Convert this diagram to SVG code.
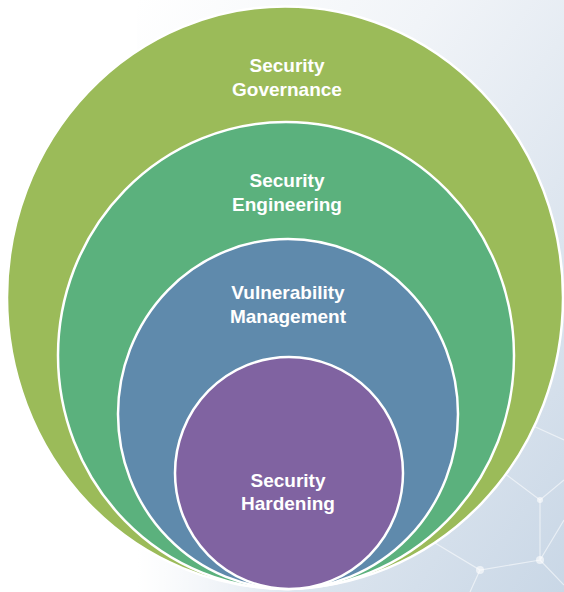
<svg xmlns="http://www.w3.org/2000/svg" width="564" height="592" viewBox="0 0 564 592">
  <defs>
    <linearGradient id="bg" x1="0" y1="0" x2="1" y2="1">
      <stop offset="0" stop-color="#FFFFFF"/>
      <stop offset="0.35" stop-color="#F1F4F8"/>
      <stop offset="1" stop-color="#C9D7E6"/>
    </linearGradient>
    <linearGradient id="fade" x1="0" y1="0" x2="1" y2="0">
      <stop offset="0" stop-color="#FFFFFF" stop-opacity="1"/>
      <stop offset="1" stop-color="#FFFFFF" stop-opacity="0"/>
    </linearGradient>
    <style>
      .ring { stroke: #FFFFFF; stroke-width: 2.5; }
      .lbl { font-family: "Liberation Sans", Arial, sans-serif; font-weight: bold; font-size: 19px; fill: #FFFFFF; text-anchor: middle; }
      .net { stroke: #FFFFFF; stroke-opacity: 0.55; stroke-width: 1.2; fill: none; }
      .dot { fill: #FFFFFF; fill-opacity: 0.6; }
    </style>
  </defs>
  <rect x="0" y="0" width="564" height="592" fill="#FFFFFF"/>
  <rect x="137" y="0" width="427" height="592" fill="url(#bg)"/>
  <rect x="137" y="400" width="160" height="192" fill="url(#fade)"/>
  <g id="background-network">
    <path class="net" d="M430 540 L480 570 L540 560 L564 520 M480 570 L470 592 M540 560 L564 585 M500 470 L540 500 L564 480 M540 500 L540 560 M455 500 L500 470 M520 420 L564 440"/>
    <circle class="dot" cx="480" cy="570" r="4"/>
    <circle class="dot" cx="540" cy="560" r="4"/>
    <circle class="dot" cx="540" cy="500" r="3"/>
    <circle class="dot" cx="500" cy="470" r="3"/>
  </g>
  <g id="security-governance">
    <ellipse class="ring" cx="285" cy="297.5" rx="278" ry="291" fill="#9BBB59"/>
    <text class="lbl" x="287" y="72">Security</text>
    <text class="lbl" x="287" y="96">Governance</text>
  </g>
  <g id="security-engineering">
    <ellipse class="ring" cx="286" cy="355.5" rx="228" ry="233.5" fill="#5BB17D"/>
    <text class="lbl" x="287" y="187">Security</text>
    <text class="lbl" x="287" y="211">Engineering</text>
  </g>
  <g id="vulnerability-management">
    <ellipse class="ring" cx="288" cy="414" rx="170" ry="175" fill="#5F8AAC"/>
    <text class="lbl" x="288" y="299">Vulnerability</text>
    <text class="lbl" x="288" y="323">Management</text>
  </g>
  <g id="security-hardening">
    <ellipse class="ring" cx="289" cy="473" rx="114" ry="116" fill="#8063A1"/>
    <text class="lbl" x="288" y="487">Security</text>
    <text class="lbl" x="288" y="510">Hardening</text>
  </g>
  <g id="connectors"/>
</svg>
